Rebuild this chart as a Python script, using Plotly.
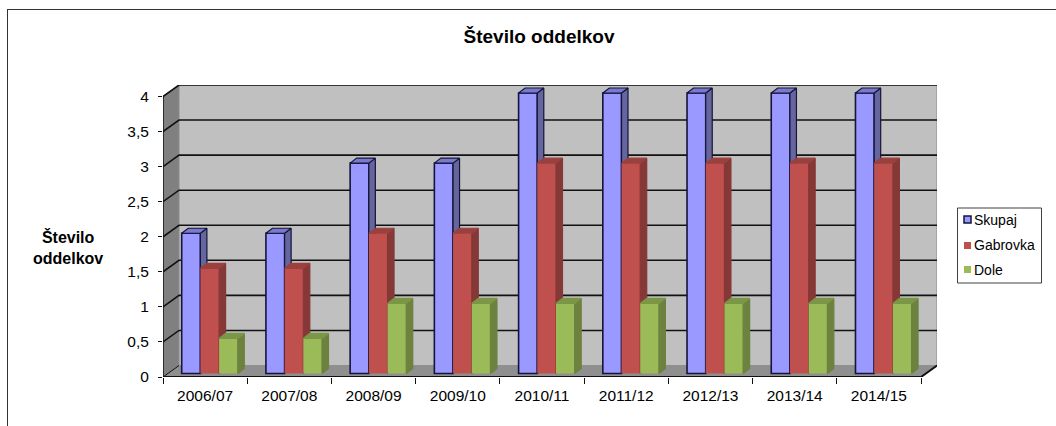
import plotly.graph_objects as go

categories = ["2006/07", "2007/08", "2008/09", "2009/10", "2010/11", "2011/12", "2012/13", "2013/14", "2014/15"]
skupaj = [2, 2, 3, 3, 4, 4, 4, 4, 4]
gabrovka = [1.5, 1.5, 2, 2, 3, 3, 3, 3, 3]
dole = [0.5, 0.5, 1, 1, 1, 1, 1, 1, 1]
y_ticks = [0, 0.5, 1, 1.5, 2, 2.5, 3, 3.5, 4]
y_labels = ["0", "0,5", "1", "1,5", "2", "2,5", "3", "3,5", "4"]

W, H = 1056, 426
L, R, T, B = 163, 937, 85, 377      # plot rectangle in page pixels
PXX = (921 - 163) / 9               # pixels per category
PXY = (377 - 96.5) / 4              # pixels per unit
DX, DY = 16 / PXX, 11.5 / PXY       # depth of floor and wall
BDX, BDY = 6.5 / PXX, 5 / PXY       # depth of a bar
BASE = 3.5 / PXY
BW = 18.7 / PXX
FONT = "Liberation Sans"
xr = [-0.5, 8.5 + DX]
yr = [0, (B - T) / PXY]

fig = go.Figure()


def poly(xs, ys, fill, line=None, lw=1, xaxis="x"):
    fig.add_trace(go.Scatter(
        x=xs, y=ys, mode="lines", fill="toself", fillcolor=fill, xaxis=xaxis, yaxis="y",
        line=dict(color=line or fill, width=lw), hoverinfo="skip", showlegend=False, cliponaxis=False))


def line(xs, ys, color="#111111", lw=1.5):
    fig.add_trace(go.Scatter(
        x=xs, y=ys, mode="lines", line=dict(color=color, width=lw), hoverinfo="skip",
        showlegend=False, cliponaxis=False))


x0, x1 = -0.5, 8.5
top = y_ticks[-1]
poly([x0, x0 + DX, x0 + DX, x0, x0], [0, DY, top + DY, top, 0], "#808080")
poly([x0 + DX, x1 + DX, x1 + DX, x0 + DX, x0 + DX], [DY, DY, top + DY, top + DY, DY], "#C0C0C0", "#8a8a8a", 1)
poly([x0, x0 + DX, x1 + DX, x1, x0], [0, DY, DY, 0, 0], "#8F8F8F")
for v in y_ticks[1:]:
    line([x0, x0 + DX, x1 + DX], [v, v + DY, v + DY], lw=1.6)
line([x0, x1, x1 + DX], [0, 0, DY], lw=2)
line([x0, x0], [0, top], lw=1.5)
line([x0 + DX, x0], [DY, 0], lw=1)


def series(values, name, offset, front, side, cap, axis, outline=None):
    xs = list(range(len(values)))
    sx, sy, tx, ty = [], [], [], []
    for i, v in zip(xs, values):
        a = i + offset
        b = a + BW
        h = BASE + v
        sx += [b, b + BDX, b + BDX, b, b, None]
        sy += [BASE, BASE + BDY, h + BDY, h, BASE, None]
        tx += [a, a + BDX, b + BDX, b, a, None]
        ty += [h, h + BDY, h + BDY, h, h, None]
    fig.add_trace(go.Bar(
        x=xs, y=values, base=BASE, width=BW, offset=offset, name=name, xaxis=axis, yaxis="y",
        marker=dict(color=front, line=dict(color=outline or front, width=1.6 if outline else 0)),
        hoverinfo="skip", showlegend=False))
    poly(sx, sy, side, outline, 1.2, axis)
    poly(tx, ty, cap, outline, 1.2, axis)


series(skupaj, "Skupaj", -0.278, "#9999FF", "#66669F", "#7A7ACC", "x2", "#14143C")
series(gabrovka, "Gabrovka", -0.056, "#C0504D", "#863836", "#9A403E", "x3")
series(dole, "Dole", 0.166, "#9BBB59", "#6C823E", "#7C9647", "x4")


def xp(px):
    return (px - L) / (R - L)


def yp(py):
    return (B - py) / (B - T)


shapes = [
    dict(type="line", xref="paper", yref="paper", x0=xp(7), x1=xp(1060), y0=yp(9.5), y1=yp(9.5),
         line=dict(color="#333333", width=1)),
    dict(type="line", xref="paper", yref="paper", x0=xp(7.5), x1=xp(7.5), y0=yp(9), y1=yp(430),
         line=dict(color="#333333", width=1)),
    dict(type="rect", xref="paper", yref="paper", x0=xp(957.5), x1=xp(1041.5), y0=yp(208), y1=yp(283),
         line=dict(color="#404040", width=1), fillcolor="white"),
]
annotations = [
    dict(text="<b>Število<br>oddelkov</b>", xref="paper", yref="paper", x=xp(67.5), y=yp(247), showarrow=False,
         xanchor="center", yanchor="middle", font=dict(family=FONT, size=16, color="black"), align="center"),
]
legend_rows = [("Skupaj", "#9999FF", "#14143C", 219.5), ("Gabrovka", "#C0504D", "#C0504D", 245.5), ("Dole", "#9BBB59", "#9BBB59", 269.5)]
for name, fill, edge, yc in legend_rows:
    shapes.append(dict(type="rect", xref="paper", yref="paper", x0=xp(964), x1=xp(971), y0=yp(yc - 3.5), y1=yp(yc + 3.5),
                       fillcolor=fill, line=dict(color=edge, width=1.5 if edge != fill else 0)))
    annotations.append(dict(text=name, xref="paper", yref="paper", x=xp(972), y=yp(yc), showarrow=False,
                            xanchor="left", yanchor="middle", font=dict(family=FONT, size=14, color="black")))

overlay = dict(range=xr, overlaying="x", anchor="y", side="bottom", showgrid=False, zeroline=False,
               showline=False, showticklabels=False, ticks="")
fig.update_layout(
    width=W, height=H, autosize=False, margin=dict(l=L, r=W - R, t=T, b=H - B, pad=0),
    paper_bgcolor="white", plot_bgcolor="white", showlegend=False, hovermode=False,
    title=dict(text="<b>Število oddelkov</b>", x=539 / W, y=1 - 36.5 / H, xref="container", yref="container",
               xanchor="center", yanchor="middle", font=dict(family=FONT, size=19, color="black")),
    xaxis=dict(range=xr, tickmode="array", tickvals=list(range(len(categories))), ticktext=categories,
               showgrid=False, zeroline=False, showline=False, ticks="outside", ticklen=4, tickcolor="rgba(0,0,0,0)",
               tickfont=dict(family=FONT, size=15.5, color="black")),
    xaxis2=dict(overlay, ticks="outside", ticklen=6, tickwidth=1.2, tickcolor="#111111",
                tickmode="array", tickvals=[i - 0.5 for i in range(len(categories) + 1)]),
    xaxis3=overlay, xaxis4=overlay,
    yaxis=dict(range=yr, tickmode="array", tickvals=y_ticks, ticktext=y_labels, showgrid=False, zeroline=False,
               showline=False, ticks="outside", ticklen=4, tickwidth=1.2, tickcolor="#111111",
               tickfont=dict(family=FONT, size=15.5, color="black"), ticklabelstandoff=6),
    shapes=shapes, annotations=annotations,
)
fig.write_html("out.html", config=dict(displayModeBar=False),
               post_script="document.body.style.margin='0';document.documentElement.style.overflow='hidden';")
